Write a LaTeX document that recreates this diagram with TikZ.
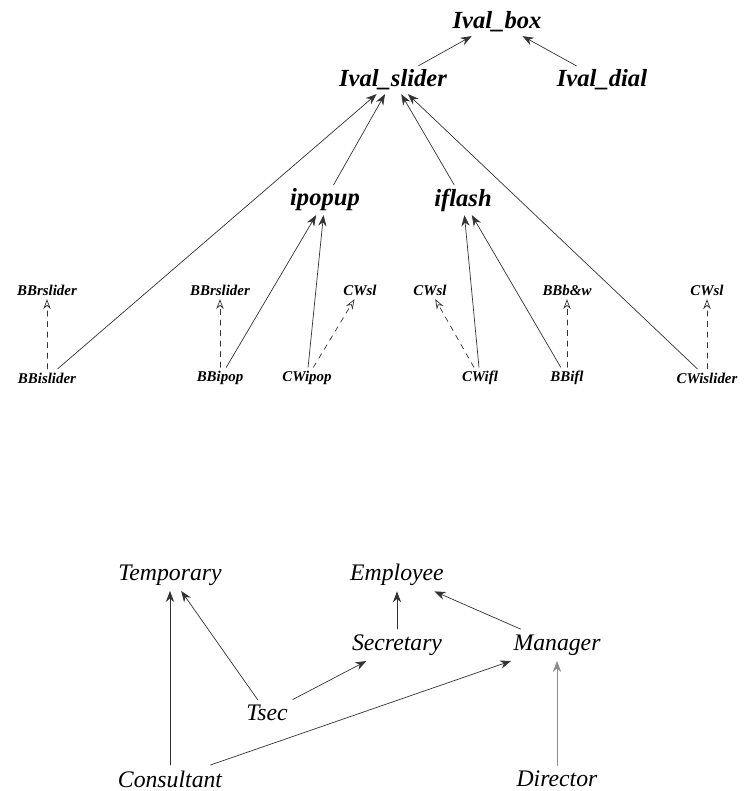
\documentclass[tikz,border=0pt]{standalone}
\usepackage{fontspec}
\setmainfont{Liberation Serif}
\usetikzlibrary{arrows.meta}
\tikzset{
    clsnode/.style={font=\bfseries\itshape\fontsize{14}{16}\selectfont, inner sep=2pt},
    leafnode/.style={font=\bfseries\itshape\fontsize{8.5}{10}\selectfont, inner sep=2pt},
    objnode/.style={font=\itshape\fontsize{13.5}{16}\selectfont, inner sep=3pt},
    isa/.style={-{Stealth[length=2.2mm]}, black!80},
    alt/.style={-{Stealth[open, length=2mm]}, dashed, black!80}
}
\begin{document}
\begin{tikzpicture}[x=0.02cm, y=-0.02cm, line cap=round, line join=round]
    \useasboundingbox (0,0) rectangle (744,791);

    % upper hierarchy
    \node[clsnode] (ivalbox) at (497,22) {Ival\_box};
    \node[clsnode] (ivalslider) at (393,80) {Ival\_slider};
    \node[clsnode] (ivaldial) at (602,80) {Ival\_dial};
    \node[clsnode] (ipopup) at (325,200) {ipopup};
    \node[clsnode] (iflash) at (463,200) {iflash};

    \node[leafnode] (bbrsliderA) at (47,290) {BBrslider};
    \node[leafnode] (bbrsliderB) at (220,290) {BBrslider};
    \node[leafnode] (cwslA) at (360,290) {CWsl};
    \node[leafnode] (cwslB) at (430,290) {CWsl};
    \node[leafnode] (bbbw) at (567,290) {BBb\&w};
    \node[leafnode] (cwslC) at (707,290) {CWsl};

    \node[leafnode] (bbislider) at (47,378) {BBislider};
    \node[leafnode] (bbipop) at (220,378) {BBipop};
    \node[leafnode] (cwipop) at (307,378) {CWipop};
    \node[leafnode] (cwifl) at (480,378) {CWifl};
    \node[leafnode] (bbifl) at (567,378) {BBifl};
    \node[leafnode] (cwislider) at (707,378) {CWislider};

    \draw[isa] (ivalslider) -- (ivalbox);
    \draw[isa] (ivaldial) -- (ivalbox);
    \draw[isa] (ipopup) -- (ivalslider);
    \draw[isa] (iflash) -- (ivalslider);
    \draw[isa] (bbislider) -- (ivalslider);
    \draw[isa] (cwislider) -- (ivalslider);
    \draw[isa] (bbipop) -- (ipopup);
    \draw[isa] (cwipop) -- (ipopup);
    \draw[isa] (cwifl) -- (iflash);
    \draw[isa] (bbifl) -- (iflash);

    \draw[alt] (bbislider) -- (bbrsliderA);
    \draw[alt] (bbipop) -- (bbrsliderB);
    \draw[alt] (cwipop) -- (cwslA);
    \draw[alt] (cwifl) -- (cwslB);
    \draw[alt] (bbifl) -- (bbbw);
    \draw[alt] (cwislider) -- (cwslC);

    % lower hierarchy
    \node[objnode] (temporary) at (170,575) {Temporary};
    \node[objnode] (employee) at (397,575) {Employee};
    \node[objnode] (secretary) at (397,645) {Secretary};
    \node[objnode] (manager) at (557,645) {Manager};
    \node[objnode] (tsec) at (267,713) {Tsec};
    \node[objnode] (consultant) at (170,779) {Consultant};
    \node[objnode] (director) at (557,779) {Director};

    \draw[isa] (consultant) -- (temporary);
    \draw[isa] (tsec) -- (temporary);
    \draw[isa] (tsec) -- (secretary);
    \draw[isa] (secretary) -- (employee);
    \draw[isa] (manager) -- (employee);
    \draw[isa] (consultant) -- (manager);
    \draw[isa, black!45] (director) -- (manager);
\end{tikzpicture}
\end{document}
